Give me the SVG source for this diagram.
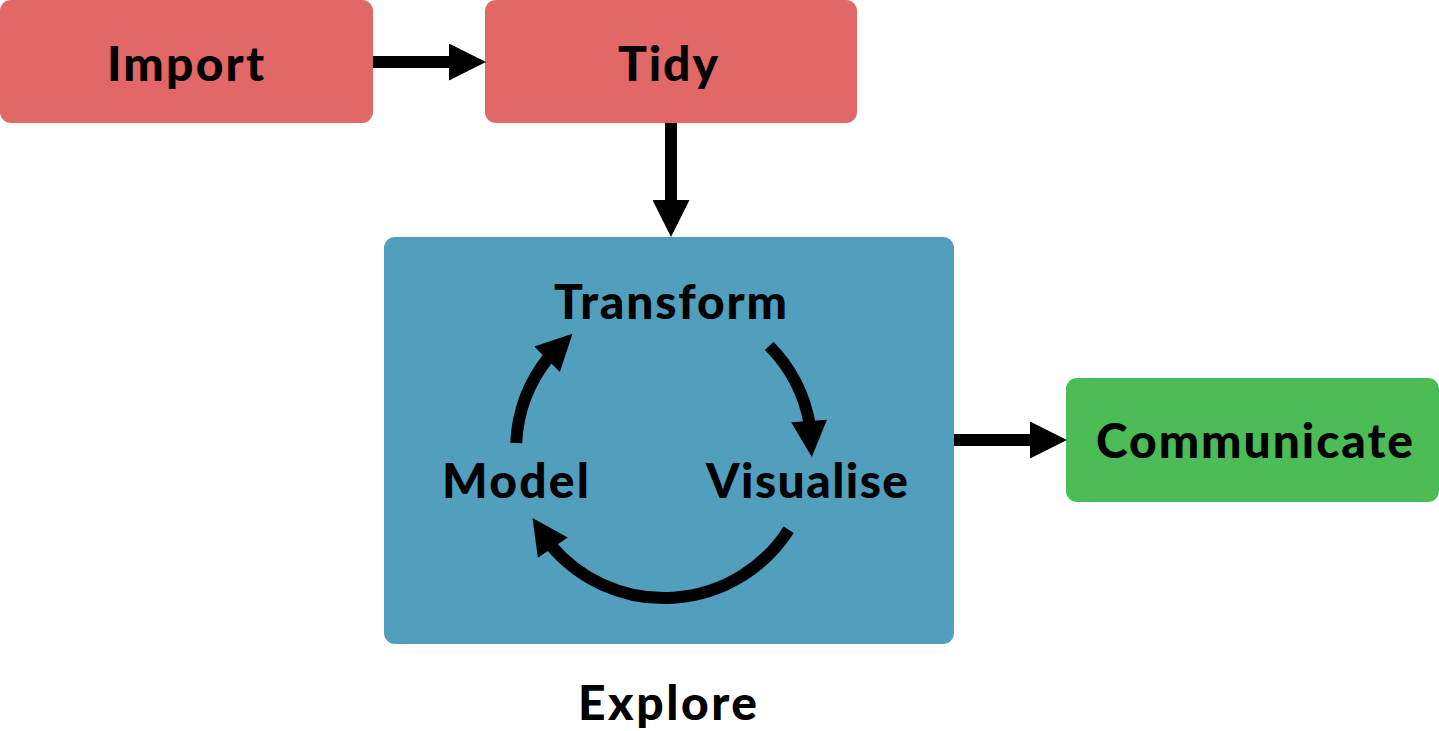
<svg xmlns="http://www.w3.org/2000/svg" width="1439" height="731" viewBox="0 0 1439 731">
  <defs>
    <style>
      .box { stroke: none; }
      .red { fill: #E26767; }
      .blue { fill: #529EBD; }
      .green { fill: #4CBC56; }
      .lbl { font-family: Lato, "Noto Sans", "Liberation Sans", sans-serif; font-weight: 900; font-size: 48px; fill: #000; text-anchor: middle; }
      .line { stroke: #000; stroke-width: 12; fill: none; stroke-linecap: butt; }
      .head { fill: #000; }
    </style>
    <marker id="arrowhead" viewBox="0 0 37 37" refX="0" refY="18.5" markerWidth="37" markerHeight="37" markerUnits="userSpaceOnUse" orient="auto">
      <path d="M0 0 L37 18.5 L0 37 Z" fill="#000"/>
    </marker>
  </defs>
  <rect width="1439" height="731" fill="#fff"/>

  <g id="node-import">
    <rect class="box red" x="0" y="0" width="373" height="123" rx="11"/>
    <text class="lbl" x="185.5" y="81" textLength="157" lengthAdjust="spacing">Import</text>
  </g>
  <g id="node-tidy">
    <rect class="box red" x="485" y="0" width="372" height="123" rx="11"/>
    <text class="lbl" x="668" y="81" textLength="100" lengthAdjust="spacing">Tidy</text>
  </g>
  <g id="node-explore">
    <rect class="box blue" x="384" y="237" width="570" height="407" rx="11"/>
    <text class="lbl" x="667.5" y="720" textLength="179" lengthAdjust="spacing">Explore</text>
  </g>
  <g id="node-transform">
    <text class="lbl" x="670.5" y="319" textLength="233" lengthAdjust="spacing">Transform</text>
  </g>
  <g id="node-model">
    <text class="lbl" x="515.5" y="498" textLength="147" lengthAdjust="spacing">Model</text>
  </g>
  <g id="node-visualise">
    <text class="lbl" x="807" y="498" textLength="202" lengthAdjust="spacing">Visualise</text>
  </g>
  <g id="node-communicate">
    <rect class="box green" x="1066" y="378" width="373" height="124" rx="11"/>
    <text class="lbl" x="1254.5" y="458" textLength="317" lengthAdjust="spacing">Communicate</text>
  </g>

  <g id="connectors">
    <!-- straight flow arrows -->
    <path class="line" d="M373 62 H449" marker-end="url(#arrowhead)"/>
    <path class="line" d="M671 123 V200" marker-end="url(#arrowhead)"/>
    <path class="line" d="M954 440 H1030" marker-end="url(#arrowhead)"/>

    <!-- cycle inside Explore: circle centre (664,450), r 148 -->
    <path class="line" d="M516.2 443 A148 148 0 0 1 549 356.9"/>
    <polygon class="head" points="572.5,333.7 559.9,372 534.3,346.6"/>

    <path class="line" d="M769.2 345.9 A148 148 0 0 1 809.7 424.3"/>
    <polygon class="head" points="811.8,457 827,419.7 791.2,422.3"/>

    <path class="line" d="M788.7 529.7 A148 148 0 0 1 550.6 545.1"/>
    <polygon class="head" points="532.5,517.9 567.7,537.6 537.9,557.8"/>
  </g>
</svg>
